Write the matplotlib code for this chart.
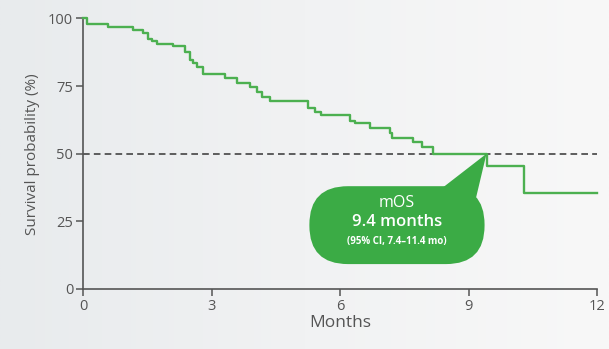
import numpy as np
import matplotlib
matplotlib.use("Agg")
import matplotlib.pyplot as plt
from matplotlib.patches import FancyBboxPatch, Polygon

# Kaplan-Meier step points
months = [0, 0.09, 0.58, 1.17, 1.40, 1.52, 1.61, 1.73, 2.10, 2.38, 2.50,
          2.57, 2.66, 2.80, 3.32, 3.60, 3.90, 4.06, 4.18, 4.37, 5.25, 5.42,
          5.55, 6.23, 6.35, 6.70, 7.17, 7.21, 7.70, 7.91, 8.17, 9.43, 10.30]
survival = [100, 97.8, 96.8, 95.9, 94.5, 92.6, 91.5, 90.5, 89.7, 87.7, 84.6,
            83.5, 82.1, 79.3, 78.1, 76.3, 74.5, 72.7, 71.0, 69.4, 66.8, 65.5,
            64.5, 62.2, 61.2, 59.4, 57.5, 56.0, 54.4, 52.6, 50.0, 45.4, 35.6]
follow_up_end = 12

median_os = 9.4
x_ticks = [0, 3, 6, 9, 12]
y_ticks = [0, 25, 50, 75, 100]

line_green = "#4cb050"
box_green = "#3bab45"
grey = "#555555"

plt.rcParams["font.family"] = ["Open Sans", "DejaVu Sans"]

fig = plt.figure(figsize=(6.09, 3.49), dpi=100)

# soft grey gradient background
bg = fig.add_axes([0, 0, 1, 1], zorder=-10)
grad = np.linspace(0, 1, 256).reshape(1, -1)
cmap = matplotlib.colors.LinearSegmentedColormap.from_list(
    "bg", ["#e8ebed", "#f1f2f3", "#f8f8f8"])
bg.imshow(grad, aspect="auto", cmap=cmap, extent=[0, 1, 0, 1])
bg.axis("off")

ax = fig.add_axes([0.1363, 0.172, 0.844, 0.775])
ax.patch.set_alpha(0)

x_vals = months + [follow_up_end]
y_vals = survival + [survival[-1]]
ax.step(x_vals, y_vals, where="post", color=line_green, lw=1.7,
        zorder=3, clip_on=False)

ax.axhline(50, color="#444444", lw=1.2, ls=(0, (4, 2.5)), zorder=2)

ax.set_xlim(0, 12)
ax.set_ylim(0, 100)
ax.set_xticks(x_ticks)
ax.set_yticks(y_ticks)

for side in ["top", "right"]:
    ax.spines[side].set_visible(False)
for side in ["left", "bottom"]:
    ax.spines[side].set_color(grey)
    ax.spines[side].set_linewidth(1.2)

ax.tick_params(colors=grey, labelsize=10.5, length=5, width=1.1, pad=2)
ax.set_xlabel("Months", fontsize=12.5, color=grey, labelpad=1)
ax.set_ylabel("Survival probability (%)", fontsize=11, color=grey, labelpad=6)

# callout balloon
cx, cy = 7.33, 23.6
bw, bh = 4.09, 28.8
asp = (bh / 78) / (bw / 175)
balloon = FancyBboxPatch((cx - bw / 2, cy - bh / 2), bw, bh,
                         boxstyle="round,pad=0,rounding_size=0.9",
                         mutation_aspect=asp,
                         fc=box_green, ec="none", zorder=4)
ax.add_patch(balloon)
tail = Polygon([(8.40, 37.5), (9.15, 32.0), (median_os + 0.02, 50)],
               closed=True, fc=box_green, ec="none", zorder=4)
ax.add_patch(tail)

ax.text(cx, cy + 8.3, "mOS", color="white", fontsize=11.5,
        fontweight="medium", ha="center", va="center", zorder=5)
ax.text(cx, cy + 1.0, "9.4 months", color="white", fontsize=12,
        fontweight="semibold", ha="center", va="center", zorder=5)
ax.text(cx, cy - 6.0, "(95% CI, 7.4\u201311.4 mo)", color="white",
        fontsize=7, fontweight="bold", ha="center", va="center",
        zorder=5, fontstretch="condensed")

fig.savefig("out.png", dpi=100)
